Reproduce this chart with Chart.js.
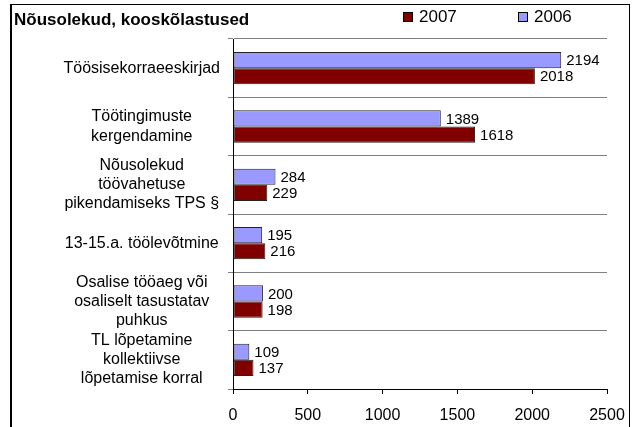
<!DOCTYPE html>
<html>
<head>
<meta charset="utf-8">
<script src="https://cdn.jsdelivr.net/npm/chart.js@4/dist/chart.umd.min.js"></script>
<style>
  body { margin: 0; background: #fff; font-family: "Liberation Sans", Arial, sans-serif; }
  #wrap { position: relative; width: 638px; height: 427px; overflow: hidden; }
  #frame { position: absolute; left: 10px; top: 4px; width: 617px; height: 440px; border: 1px solid #000; border-left-width: 2px; pointer-events: none; }
  #title { position: absolute; left: 14px; top: 10px; font-weight: bold; font-size: 17px; line-height: 19px; color: #000; white-space: nowrap; }
  #legend { position: absolute; left: 0; top: 0; }
  .lg-item { position: absolute; top: 7px; display: flex; align-items: center; font-size: 17px; line-height: 19px; color: #000; }
  .lg-box { width: 8px; height: 8px; border: 1px solid #000; margin-right: 6px; }
</style>
</head>
<body>
<div id="wrap">
  <canvas id="complaintsChart" width="638" height="427"></canvas>
  <div id="frame"></div>
  <div id="title">Nõusolekud, kooskõlastused</div>
  <div id="legend"></div>
</div>
<script>
const categories = [
  ["Töösisekorraeeskirjad"],
  ["Töötingimuste", "kergendamine"],
  ["Nõusolekud", "töövahetuse", "pikendamiseks TPS §"],
  ["13-15.a. töölevõtmine"],
  ["Osalise tööaeg või", "osaliselt tasustatav", "puhkus"],
  ["TL lõpetamine", "kollektiivse", "lõpetamise korral"]
];
const values2006 = [2194, 1389, 284, 195, 200, 109];
const values2007 = [2018, 1618, 229, 216, 198, 137];
const xTicks = [0, 500, 1000, 1500, 2000, 2500];

const font = "'Liberation Sans', Arial, sans-serif";

const barLabels = {
  id: "barLabels",
  afterDatasetsDraw(chart) {
    const ctx = chart.ctx;
    ctx.save();
    ctx.font = "15px " + font;
    ctx.fillStyle = "#000";
    ctx.textAlign = "left";
    ctx.textBaseline = "middle";
    chart.data.datasets.forEach((ds, i) => {
      chart.getDatasetMeta(i).data.forEach((bar, j) => {
        ctx.fillText(String(ds.data[j]), bar.x + 5, bar.y + 1);
      });
    });
    ctx.restore();
  }
};

const complaintsData = {
  labels: categories,
  datasets: [
    {
      label: "2006",
      data: values2006,
      backgroundColor: "#9999FF",
      borderColor: "#222",
      borderWidth: 1,
      borderSkipped: false,
    },
    {
      label: "2007",
      data: values2007,
      backgroundColor: "#800000",
      borderColor: "#222",
      borderWidth: 1,
      borderSkipped: false,
    },
  ],
};

const complaintsChart = new Chart(document.getElementById("complaintsChart"), {
  type: "bar",
  data: complaintsData,
  options: {
    indexAxis: "y",
    responsive: false,
    animation: false,
    devicePixelRatio: 1,
    categoryPercentage: 0.555,
    barPercentage: 1,
    layout: { padding: { top: 39, right: 31, bottom: 0, left: 0 } },
    plugins: {
      legend: { display: false },
      tooltip: { enabled: false },
    },
    scales: {
      x: {
        min: 0,
        max: 2500,
        afterBuildTicks: (scale) => { scale.ticks = xTicks.map((v) => ({ value: v })); },
        afterFit: (scale) => { scale.height = 38; },
        grid: { drawOnChartArea: false, drawTicks: true, tickLength: 5, color: "#000" },
        border: { color: "#000", width: 1 },
        ticks: {
          color: "#000",
          padding: 12,
          font: { family: font, size: 16 },
          callback: (v) => String(v),
        },
      },
      y: {
        afterFit: (scale) => { scale.width = 233; },
        grid: { color: "#808080", tickLength: 5 },
        border: { color: "#000", width: 1 },
        ticks: {
          color: "#000",
          padding: 8,
          autoSkip: false,
          crossAlign: "center",
          font: { family: font, size: 16, lineHeight: 1.2 },
        },
      },
    },
  },
  plugins: [barLabels],
});

// legend, 2007 first as in the original
const legendEl = document.getElementById("legend");
const legendX = [403, 518];
complaintsData.datasets.slice().reverse().forEach((ds, i) => {
  const item = document.createElement("div");
  item.className = "lg-item";
  item.style.left = legendX[i] + "px";
  item.innerHTML = `<span class="lg-box" style="background:${ds.backgroundColor}"></span><span>${ds.label}</span>`;
  legendEl.appendChild(item);
});
</script>
</body>
</html>
